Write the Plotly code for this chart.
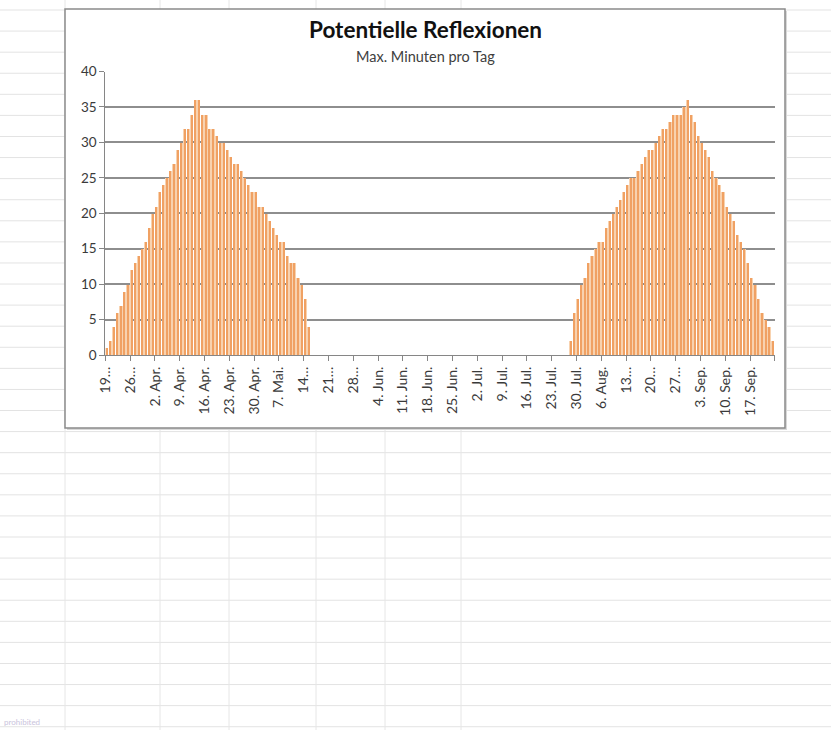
import pandas as pd
import plotly.graph_objects as go

# Max. minutes of potential reflection per day, spring window (from 19 Mar)
spring_start = "2019-03-19"
spring_minutes = [1, 2, 4, 6, 7, 9, 10, 12, 13, 14, 15, 16,
                  18, 20, 21, 23, 24, 25, 26, 27, 29, 30, 32, 32, 34,
                  36, 36,
                  34, 34, 32, 32, 31, 30, 30, 29, 28, 27, 27, 26, 25, 24,
                  23, 23, 21, 21, 20, 19, 18, 17, 16, 16, 14, 13, 13, 11,
                  10, 8, 4]

# Autumn window (from 28 Jul)
autumn_start = "2019-07-28"
autumn_minutes = [2, 6, 8, 10, 11, 13, 14, 15, 16, 16,
                  18, 19, 20, 21, 22, 23, 24, 25, 25, 26,
                  27, 28, 29, 29, 30, 31, 32, 32, 33, 34,
                  34, 34, 35, 36, 34, 33, 31, 30, 29, 28,
                  26, 25, 24, 23, 21, 20, 19, 17, 16, 15,
                  13, 11, 10, 8, 6, 5, 4, 2]

axis_start = "2019-03-19"
axis_end = "2019-09-24"

tick_labels = ["19…", "26…", "2. Apr.", "9. Apr.", "16. Apr.", "23. Apr.",
               "30. Apr.", "7. Mai.", "14…", "21…", "28…", "4. Jun.",
               "11. Jun.", "18. Jun.", "25. Jun.", "2. Jul.", "9. Jul.",
               "16. Jul.", "23. Jul.", "30. Jul.", "6. Aug.", "13…", "20…",
               "27…", "3. Sep.", "10. Sep.", "17. Sep.", ""]

# Days with reflection (the weeks in between have none)
dates = list(pd.date_range(spring_start, periods=len(spring_minutes))) + \
        list(pd.date_range(autumn_start, periods=len(autumn_minutes)))
minutes = spring_minutes + autumn_minutes
tick_dates = pd.date_range(axis_start, periods=len(tick_labels), freq="7D")

W, H = 831, 730
FONT = "Lato"
DAY_MS = 86400000


def px(x):
    return x / W


def py(y):
    return 1 - y / H


def bar_layer(width, color):
    # bars centred in each day's slot
    return go.Bar(
        x=dates, y=minutes,
        width=width * DAY_MS, offset=(0.5 - width / 2) * DAY_MS,
        marker=dict(color=color, line=dict(width=0)),
        hoverinfo="x+y",
    )


fig = go.Figure()
fig.add_trace(bar_layer(0.9, "#F8D2AF"))    # soft halo of each column
fig.add_trace(bar_layer(0.3, "#F0A163"))    # column core

# spreadsheet grid behind the chart object
shapes = []
y = 10.0
while y < H:
    shapes.append(dict(type="line", xref="paper", yref="paper",
                       x0=0, x1=1, y0=py(y), y1=py(y),
                       line=dict(color="#E3E3E3", width=1), layer="below"))
    y += 21.08
for xv in [65, 160, 229, 316, 385, 461]:
    shapes.append(dict(type="line", xref="paper", yref="paper",
                       x0=px(xv), x1=px(xv), y0=0, y1=1,
                       line=dict(color="#E6E6E6", width=1), layer="below"))
# chart object frame with a soft shadow
shapes.append(dict(type="rect", xref="paper", yref="paper",
                   x0=px(67), x1=px(787), y0=py(430), y1=py(11),
                   fillcolor="#D8D8D8", line=dict(width=0), layer="below"))
shapes.append(dict(type="rect", xref="paper", yref="paper",
                   x0=px(65), x1=px(785), y0=py(428), y1=py(9),
                   fillcolor="white", line=dict(color="#8A8A8A", width=1.5),
                   layer="below"))

annotations = [
    dict(text="<b>Potentielle Reflexionen</b>", x=px(425), y=py(29),
         xref="paper", yref="paper", showarrow=False, xanchor="center",
         yanchor="middle", font=dict(family=FONT, size=22.5, color="#111111")),
    dict(text="Max. Minuten pro Tag", x=px(426), y=py(56),
         xref="paper", yref="paper", showarrow=False, xanchor="center",
         yanchor="middle", font=dict(family=FONT, size=14.5, color="#404040")),
    dict(text="prohibited", x=px(2), y=py(722), xref="paper", yref="paper",
         showarrow=False, xanchor="left", yanchor="middle",
         font=dict(family=FONT, size=8, color="#C9C3DC")),
]

fig.update_layout(
    width=W, height=H,
    margin=dict(l=0, r=0, t=0, b=0, autoexpand=False),
    paper_bgcolor="white",
    plot_bgcolor="rgba(0,0,0,0)",
    showlegend=False,
    barmode="overlay",
    bargap=0,
    shapes=shapes,
    annotations=annotations,
    xaxis=dict(
        domain=[px(105.4), px(774.8)],
        type="date",
        range=[axis_start, axis_end],
        tickmode="array", tickvals=tick_dates, ticktext=tick_labels,
        tickangle=-90,
        ticks="outside", ticklen=5, tickcolor="#868686", tickwidth=1,
        showline=True, linecolor="#868686", linewidth=1.2,
        showgrid=False, zeroline=False,
        tickfont=dict(family=FONT, size=14, color="#3A3A3A"),
        automargin=False,
        fixedrange=True,
    ),
    yaxis=dict(
        domain=[py(355), py(71.5)],
        range=[0, 40], dtick=5, tick0=0,
        ticks="outside", ticklen=5, tickcolor="#868686", tickwidth=1,
        showline=True, linecolor="#868686", linewidth=1.2,
        showgrid=True, gridcolor="#8E8E8E", gridwidth=1.6,
        zeroline=False,
        tickfont=dict(family=FONT, size=13.5, color="#3A3A3A"),
        automargin=False,
        fixedrange=True,
    ),
)

fig.write_html("out.html")
